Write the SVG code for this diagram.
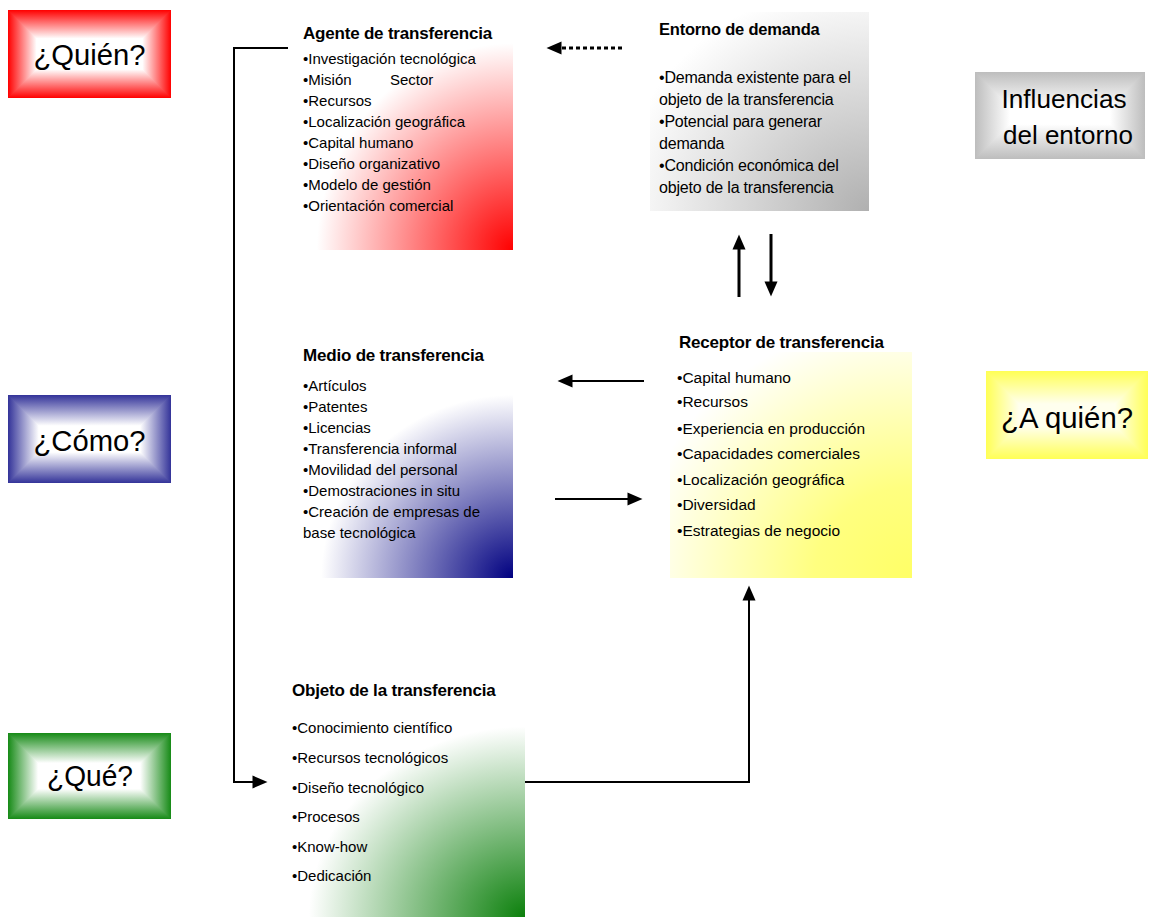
<svg xmlns="http://www.w3.org/2000/svg" xmlns:xlink="http://www.w3.org/1999/xlink" width="1151" height="917" viewBox="0 0 1151 917">
<style>
  text { font-family: "Liberation Sans", Arial, sans-serif; fill: #000; }
  .big { font-size: 29px; text-anchor: middle; }
  .infl { font-size: 26px; text-anchor: middle; }
  .hdr { font-size: 17px; font-weight: bold; letter-spacing: -0.2px; }
  .it { font-size: 15px; }
  .it16 { font-size: 16px; letter-spacing: -0.2px; }
  .rc { font-size: 15.5px; }
  .frame polygon { shape-rendering: crispEdges; }
  .conn { fill: none; stroke: #000; stroke-width: 2; }
  .thick { stroke-width: 3; }
</style>
<defs>
  <linearGradient id="rS"><stop offset="0" stop-color="#ff0000"/><stop offset="0.65" stop-color="#ffffff"/></linearGradient>
  <linearGradient id="bS"><stop offset="0" stop-color="#333399"/><stop offset="0.7" stop-color="#ffffff"/></linearGradient>
  <linearGradient id="gS"><stop offset="0" stop-color="#168a16"/><stop offset="0.7" stop-color="#ffffff"/></linearGradient>
  <linearGradient id="yS"><stop offset="0" stop-color="#ffff55"/><stop offset="0.75" stop-color="#ffffee"/></linearGradient>
  <linearGradient id="kS"><stop offset="0" stop-color="#bdbdbd"/><stop offset="0.8" stop-color="#ffffff"/></linearGradient>

  <linearGradient id="rT" href="#rS" xlink:href="#rS" x1="0" y1="0" x2="0" y2="1"/>
  <linearGradient id="rB" href="#rS" xlink:href="#rS" x1="0" y1="1" x2="0" y2="0"/>
  <linearGradient id="rL" href="#rS" xlink:href="#rS" x1="0" y1="0" x2="1" y2="0"/>
  <linearGradient id="rR" href="#rS" xlink:href="#rS" x1="1" y1="0" x2="0" y2="0"/>
  <linearGradient id="bT" href="#bS" xlink:href="#bS" x1="0" y1="0" x2="0" y2="1"/>
  <linearGradient id="bB" href="#bS" xlink:href="#bS" x1="0" y1="1" x2="0" y2="0"/>
  <linearGradient id="bL" href="#bS" xlink:href="#bS" x1="0" y1="0" x2="1" y2="0"/>
  <linearGradient id="bR" href="#bS" xlink:href="#bS" x1="1" y1="0" x2="0" y2="0"/>
  <linearGradient id="gT" href="#gS" xlink:href="#gS" x1="0" y1="0" x2="0" y2="1"/>
  <linearGradient id="gB" href="#gS" xlink:href="#gS" x1="0" y1="1" x2="0" y2="0"/>
  <linearGradient id="gL" href="#gS" xlink:href="#gS" x1="0" y1="0" x2="1" y2="0"/>
  <linearGradient id="gR" href="#gS" xlink:href="#gS" x1="1" y1="0" x2="0" y2="0"/>
  <linearGradient id="yT" href="#yS" xlink:href="#yS" x1="0" y1="0" x2="0" y2="1"/>
  <linearGradient id="yB" href="#yS" xlink:href="#yS" x1="0" y1="1" x2="0" y2="0"/>
  <linearGradient id="yL" href="#yS" xlink:href="#yS" x1="0" y1="0" x2="1" y2="0"/>
  <linearGradient id="yR" href="#yS" xlink:href="#yS" x1="1" y1="0" x2="0" y2="0"/>
  <linearGradient id="kT" href="#kS" xlink:href="#kS" x1="0" y1="0" x2="0" y2="1"/>
  <linearGradient id="kB" href="#kS" xlink:href="#kS" x1="0" y1="1" x2="0" y2="0"/>
  <linearGradient id="kL" href="#kS" xlink:href="#kS" x1="0" y1="0" x2="1" y2="0"/>
  <linearGradient id="kR" href="#kS" xlink:href="#kS" x1="1" y1="0" x2="0" y2="0"/>

  <radialGradient id="cRed" cx="1" cy="1" r="0.88" fx="1" fy="1">
    <stop offset="0" stop-color="#ff0000"/><stop offset="0.1" stop-color="#ff1a1a"/><stop offset="1" stop-color="#ffffff"/>
  </radialGradient>
  <radialGradient id="cNavy" cx="1" cy="1" r="0.88" fx="1" fy="1">
    <stop offset="0" stop-color="#000080"/><stop offset="1" stop-color="#ffffff"/>
  </radialGradient>
  <radialGradient id="cGreen" cx="1" cy="1" r="0.92" fx="1" fy="1">
    <stop offset="0" stop-color="#0c800c"/><stop offset="1" stop-color="#ffffff"/>
  </radialGradient>
  <radialGradient id="cYellow" cx="1" cy="1" r="1.15" fx="1" fy="1">
    <stop offset="0" stop-color="#ffff66"/><stop offset="0.35" stop-color="#ffff80"/><stop offset="1" stop-color="#ffffff"/>
  </radialGradient>
  <radialGradient id="cGray" cx="1" cy="1" r="1.15" fx="1" fy="1">
    <stop offset="0" stop-color="#b0b0b0"/><stop offset="1" stop-color="#ffffff"/>
  </radialGradient>

  <marker id="head" markerUnits="userSpaceOnUse" markerWidth="16" markerHeight="14" refX="0.5" refY="6.5" orient="auto" overflow="visible">
    <path d="M0,0 L15,6.5 L0,13 Z" fill="#000"/>
  </marker>
</defs>

<g id="quien" class="frame">
  <polygon points="8,10 171,10 127,54 52,54" fill="url(#rT)"/>
  <polygon points="8,98 171,98 127,54 52,54" fill="url(#rB)"/>
  <polygon points="8,10 52,54 8,98" fill="url(#rL)"/>
  <polygon points="171,10 127,54 171,98" fill="url(#rR)"/>
  <text class="big" x="89.5" y="65" textLength="112" lengthAdjust="spacingAndGlyphs">¿Quién?</text>
</g>
<g id="como" class="frame">
  <polygon points="8,395 171,395 127,439 52,439" fill="url(#bT)"/>
  <polygon points="8,483 171,483 127,439 52,439" fill="url(#bB)"/>
  <polygon points="8,395 52,439 8,483" fill="url(#bL)"/>
  <polygon points="171,395 127,439 171,483" fill="url(#bR)"/>
  <text class="big" x="89.5" y="451" textLength="112" lengthAdjust="spacingAndGlyphs">¿Cómo?</text>
</g>
<g id="que" class="frame">
  <polygon points="8,733 171,733 127,776 51,776" fill="url(#gT)"/>
  <polygon points="8,819 171,819 127,776 51,776" fill="url(#gB)"/>
  <polygon points="8,733 51,776 8,819" fill="url(#gL)"/>
  <polygon points="171,733 127,776 171,819" fill="url(#gR)"/>
  <text class="big" x="90" y="786" textLength="86" lengthAdjust="spacingAndGlyphs">¿Qué?</text>
</g>
<g id="aquien" class="frame">
  <polygon points="986,371 1148,371 1104,415 1030,415" fill="url(#yT)"/>
  <polygon points="986,459 1148,459 1104,415 1030,415" fill="url(#yB)"/>
  <polygon points="986,371 1030,415 986,459" fill="url(#yL)"/>
  <polygon points="1148,371 1104,415 1148,459" fill="url(#yR)"/>
  <text class="big" x="1067" y="428" textLength="132" lengthAdjust="spacingAndGlyphs">¿A quién?</text>
</g>
<g id="influencias" class="frame">
  <polygon points="975,72 1145,72 1101.5,115.5 1018.5,115.5" fill="url(#kT)"/>
  <polygon points="975,159 1145,159 1101.5,115.5 1018.5,115.5" fill="url(#kB)"/>
  <polygon points="975,72 1018.5,115.5 975,159" fill="url(#kL)"/>
  <polygon points="1145,72 1101.5,115.5 1145,159" fill="url(#kR)"/>
  <text class="infl" x="1064" y="108" textLength="125" lengthAdjust="spacingAndGlyphs">Influencias</text>
  <text class="infl" x="1068" y="144" textLength="130" lengthAdjust="spacingAndGlyphs">del entorno</text>
</g>

<g id="agente">
  <rect x="290" y="15" width="223" height="235" fill="url(#cRed)"/>
  <text class="hdr" x="303" y="39">Agente de transferencia</text>
  <text class="it" x="303" y="64">•Investigación tecnológica</text>
  <text class="it" x="303" y="85">•Misión</text>
  <text class="it" x="390" y="85">Sector</text>
  <text class="it" x="303" y="106">•Recursos</text>
  <text class="it" x="303" y="127">•Localización geográfica</text>
  <text class="it" x="303" y="148">•Capital humano</text>
  <text class="it" x="303" y="169">•Diseño organizativo</text>
  <text class="it" x="303" y="190">•Modelo de gestión</text>
  <text class="it" x="303" y="211">•Orientación comercial</text>
</g>

<g id="entorno">
  <rect x="650" y="12" width="219" height="199" fill="url(#cGray)"/>
  <text class="hdr" x="659" y="35" style="font-size:16.5px">Entorno de demanda</text>
  <text class="it16" x="659" y="83">•Demanda existente para el</text>
  <text class="it16" x="659" y="105">objeto de la transferencia</text>
  <text class="it16" x="659" y="127">•Potencial para generar</text>
  <text class="it16" x="659" y="149">demanda</text>
  <text class="it16" x="659" y="171">•Condición económica del</text>
  <text class="it16" x="659" y="193">objeto de la transferencia</text>
</g>

<g id="medio">
  <rect x="295" y="370" width="218" height="208" fill="url(#cNavy)"/>
  <text class="hdr" x="303" y="361">Medio de transferencia</text>
  <text class="it" x="303" y="391">•Artículos</text>
  <text class="it" x="303" y="412">•Patentes</text>
  <text class="it" x="303" y="433">•Licencias</text>
  <text class="it" x="303" y="454">•Transferencia informal</text>
  <text class="it" x="303" y="475">•Movilidad del personal</text>
  <text class="it" x="303" y="496">•Demostraciones in situ</text>
  <text class="it" x="303" y="517">•Creación de empresas de</text>
  <text class="it" x="303" y="538">base tecnológica</text>
</g>

<g id="receptor">
  <rect x="670" y="352" width="242" height="226" fill="url(#cYellow)"/>
  <text class="hdr" x="679" y="348">Receptor de transferencia</text>
  <text class="rc" x="677" y="383">•Capital humano</text>
  <text class="rc" x="677" y="407">•Recursos</text>
  <text class="rc" x="677" y="434">•Experiencia en producción</text>
  <text class="rc" x="677" y="459">•Capacidades comerciales</text>
  <text class="rc" x="677" y="485">•Localización geográfica</text>
  <text class="rc" x="677" y="510">•Diversidad</text>
  <text class="rc" x="677" y="536">•Estrategias de negocio</text>
</g>

<g id="objeto">
  <rect x="290" y="710" width="235" height="207" fill="url(#cGreen)"/>
  <text class="hdr" x="292" y="696">Objeto de la transferencia</text>
  <text class="it" x="292" y="733">•Conocimiento científico</text>
  <text class="it" x="292" y="763">•Recursos tecnológicos</text>
  <text class="it" x="292" y="793">•Diseño tecnológico</text>
  <text class="it" x="292" y="822">•Procesos</text>
  <text class="it" x="292" y="852">•Know-how</text>
  <text class="it" x="292" y="881">•Dedicación</text>
</g>

<g id="connectors">
  <path class="conn thick" d="M622,48 L561,48" stroke-dasharray="4,3" marker-end="url(#head)"/>
  <polyline class="conn" points="288,48 234,48 234,782"/>
  <path class="conn" d="M233,782 L253,782" stroke-width="3.5" marker-end="url(#head)"/>
  <path class="conn thick" d="M739,297 L739,249" marker-end="url(#head)"/>
  <path class="conn thick" d="M771,234 L771,282" marker-end="url(#head)"/>
  <path class="conn" d="M644,381 L572,381" marker-end="url(#head)"/>
  <path class="conn" d="M555,499 L628,499" marker-end="url(#head)"/>
  <polyline class="conn" points="525,782 749,782 749,600" marker-end="url(#head)"/>
</g>
</svg>
